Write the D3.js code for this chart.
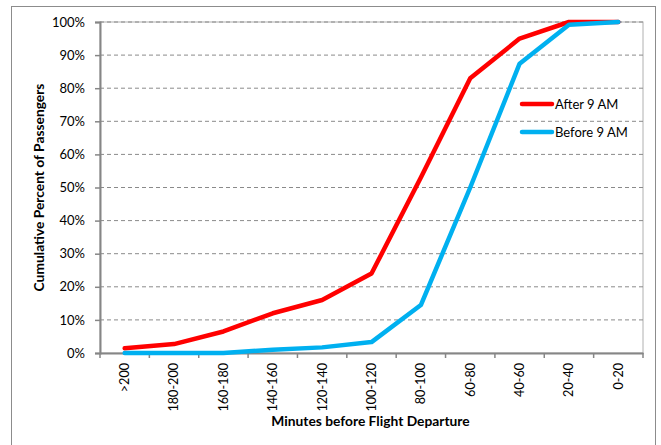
<!DOCTYPE html>
<html><head><meta charset="utf-8">
<script src="https://cdn.jsdelivr.net/npm/d3@7"></script>
<style>body{margin:0;background:#fff}svg{display:block}text{font-family:Lato,"Open Sans",sans-serif}</style>
</head><body><svg id="c" width="661" height="445"></svg>
<script>
const categories = [">200","180-200","160-180","140-160","120-140","100-120","80-100","60-80","40-60","20-40","0-20"];
const afterValues = [1.4, 2.7, 6.5, 12, 16, 24, 53, 83, 95, 100, 100];
const beforeValues = [0, 0, 0, 1, 1.7, 3.3, 14.5, 50, 87.4, 99.2, 100];
const yTicks = [0,10,20,30,40,50,60,70,80,90,100];
const seriesNames = ["After 9 AM", "Before 9 AM"];
const seriesColors = ["#FF0000", "#00B0F0"];

const svg = d3.select("#c");
const m = {l:100, r:643, t:22, b:353};
svg.append("rect").attr("x",11.5).attr("y",6.5).attr("width",644).attr("height",445).attr("fill","none").attr("stroke","#8c8c8c");

const x = d3.scaleBand().domain(categories).range([m.l, m.r]);
const y = d3.scaleLinear().domain([0,100]).range([m.b, m.t]);

svg.append("rect").attr("x",m.l).attr("y",m.t).attr("width",m.r-m.l).attr("height",m.b-m.t).attr("fill","none").attr("stroke","#b0b0b0");

svg.append("g").selectAll("line").data(yTicks.filter(d=>d>0)).join("line")
  .attr("x1",m.l).attr("x2",m.r).attr("y1",d=>y(d)).attr("y2",d=>y(d))
  .attr("stroke","#8a8a8a").attr("stroke-width",1).attr("stroke-dasharray","4,3");

const ya = svg.append("g").attr("transform",`translate(${m.l},0)`)
  .call(d3.axisLeft(y).tickValues(yTicks).tickFormat(d=>d+"%").tickSize(5).tickPadding(10));
ya.select(".domain").attr("stroke","#868686").attr("stroke-width",2);
ya.selectAll(".tick line").attr("stroke","#868686").attr("stroke-width",1.5);
ya.selectAll("text").attr("font-size",13).attr("fill","#000");

const xa = svg.append("g").attr("transform",`translate(0,${m.b})`)
  .call(d3.axisBottom(x).tickSize(0).tickSizeOuter(0));
xa.select(".domain").attr("stroke","#868686").attr("stroke-width",2);
xa.selectAll(".tick text").attr("font-size",12.6).attr("fill","#000")
  .attr("transform","rotate(-90)").attr("text-anchor","end").attr("x",-10).attr("y",0).attr("dy","0.35em");
xa.append("g").selectAll("line").data(d3.range(categories.length+1)).join("line")
  .attr("x1",i=>m.l + i*x.step()).attr("x2",i=>m.l + i*x.step()).attr("y1",0).attr("y2",5)
  .attr("stroke","#868686").attr("stroke-width",1.5);

const line = d3.line().x((d,i)=>x(categories[i])+x.bandwidth()/2).y(d=>y(d));
[afterValues, beforeValues].forEach((vals,k)=>{
  svg.append("path").datum(vals).attr("d",line).attr("fill","none")
    .attr("stroke",seriesColors[k]).attr("stroke-width",4.5).attr("stroke-linejoin","round").attr("stroke-linecap","round");
});

seriesNames.forEach((n,k)=>{
  const ly = 104 + k*28;
  svg.append("line").attr("x1",522).attr("x2",552).attr("y1",ly).attr("y2",ly)
    .attr("stroke",seriesColors[k]).attr("stroke-width",4.5).attr("stroke-linecap","round");
  svg.append("text").attr("x",555).attr("y",ly).attr("dy","0.35em").attr("font-size",13).text(n);
});

svg.append("text").attr("x",(m.l+m.r)/2 - 1).attr("y",426).attr("text-anchor","middle")
  .attr("font-size",13.8).attr("font-weight","bold").text("Minutes before Flight Departure");
svg.append("text").attr("transform",`translate(44,${(m.t+m.b)/2}) rotate(-90)`).attr("text-anchor","middle")
  .attr("font-size",13.8).attr("font-weight","bold").text("Cumulative Percent of Passengers");
</script></body></html>
